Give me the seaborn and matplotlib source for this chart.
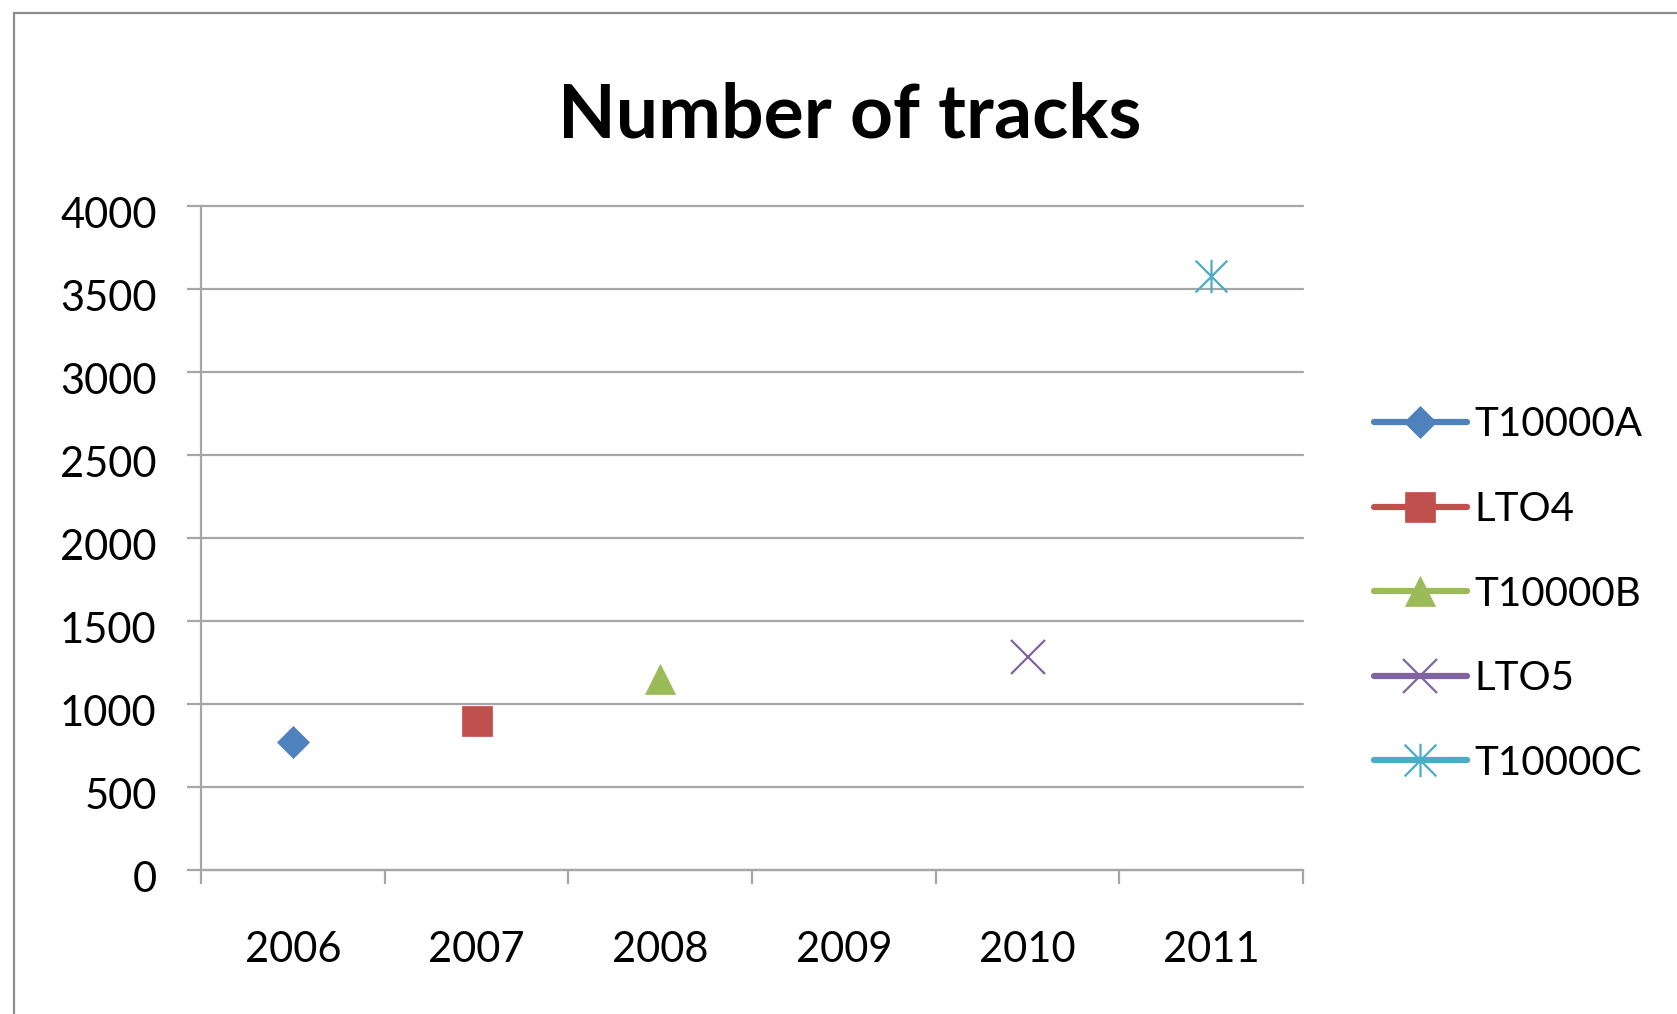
import matplotlib
matplotlib.use("Agg")
import matplotlib.pyplot as plt
import matplotlib.transforms as mtransforms
import seaborn as sns
import pandas as pd
from matplotlib.path import Path
from matplotlib.patches import Rectangle

# ---- data ----
years = ["2006", "2007", "2008", "2009", "2010", "2011"]
series_names = ["T10000A", "LTO4", "T10000B", "LTO5", "T10000C"]
series_years = ["2006", "2007", "2008", "2010", "2011"]
series_values = [766, 895, 1146, 1281, 3578]
y_ticks = [0, 500, 1000, 1500, 2000, 2500, 3000, 3500, 4000]
title = "Number of tracks"

# ---- styles ----
colors = ["#4F81BD", "#C0504D", "#9BBB59", "#8064A2", "#4BACC6"]
asterisk = Path([(-1, -1), (1, 1), (-1, 1), (1, -1), (0, -1.05), (0, 1.05)],
                [Path.MOVETO, Path.LINETO, Path.MOVETO, Path.LINETO, Path.MOVETO, Path.LINETO])
markers = ["D", "s", "^", "x", asterisk]
msizes = [16, 21, 22, 24, 24]

sns.set_theme(style="white")
plt.rcParams["font.family"] = ["Lato", "DejaVu Sans"]

W, H = 1677, 1014
fig = plt.figure(figsize=(W / 100, H / 100), dpi=100)
ax = fig.add_axes([201 / W, 1 - 869.5 / H, 1102 / W, 663.5 / H])

df = pd.DataFrame({
    "series": series_names,
    "pos": [years.index(y) for y in series_years],
    "tracks": series_values,
})

for i, name in enumerate(series_names):
    sub = df[df["series"] == name]
    filled = markers[i] in ("D", "s", "^")
    sns.lineplot(data=sub, x="pos", y="tracks", ax=ax, color=colors[i],
                 label=name, marker=markers[i], markersize=msizes[i],
                 markeredgecolor=colors[i],
                 markerfacecolor=colors[i] if filled else "none",
                 markeredgewidth=0.5 if filled else 1.6, linewidth=4)

ax.set_xlim(-0.5, len(years) - 0.5)
ax.set_ylim(0, 4000)
ax.set_xticks(range(len(years)))
ax.set_xticklabels(years)
ax.set_xticks([i - 0.5 for i in range(len(years) + 1)], minor=True)
ax.set_yticks(y_ticks)
ax.set_yticklabels([str(v) for v in y_ticks])
ax.set_xlabel("")
ax.set_ylabel("")

grid_c = "#A6A6A6"
ax.yaxis.grid(True, color=grid_c, linewidth=1.6)
ax.xaxis.grid(False)
ax.set_axisbelow(True)
for gl in ax.get_ygridlines():
    gl.set_clip_on(False)
for s in ["top", "right"]:
    ax.spines[s].set_visible(False)
for s in ["left", "bottom"]:
    ax.spines[s].set_color(grid_c)
    ax.spines[s].set_linewidth(1.6)

ax.tick_params(axis="x", which="major", length=0, pad=44, labelsize=30, labelcolor="black")
ax.tick_params(axis="x", which="minor", length=10, width=1.6, color=grid_c, direction="out", bottom=True)
ax.tick_params(axis="y", which="major", length=10, width=1.6, color=grid_c, direction="out",
               pad=22, labelsize=30, labelcolor="black", left=True)
offset = mtransforms.ScaledTranslation(0, -5 / 72, fig.dpi_scale_trans)
for lab in ax.get_yticklabels():
    lab.set_transform(lab.get_transform() + offset)

fig.text(850 / W, 1 - 116 / H, title, ha="center", va="center",
         fontsize=54, fontweight="bold", color="black")

leg = ax.legend(loc="center left", bbox_to_anchor=(1374 / W, 1 - 594 / H),
                bbox_transform=fig.transFigure, frameon=False, fontsize=29,
                handlelength=2.3, handletextpad=0.2, labelspacing=1.18,
                borderpad=0, borderaxespad=0)
for t in leg.get_texts():
    t.set_color("black")
for h in leg.legend_handles:
    h.set_linewidth(4.5)
    h.set_solid_capstyle("round")

fig.add_artist(Rectangle((14 / W, -0.1), 2, 1 - 13 / H + 0.1, transform=fig.transFigure,
                         fill=False, edgecolor="#8C8C8C", linewidth=1.6))

fig.savefig("out.png", dpi=100, facecolor="white")
